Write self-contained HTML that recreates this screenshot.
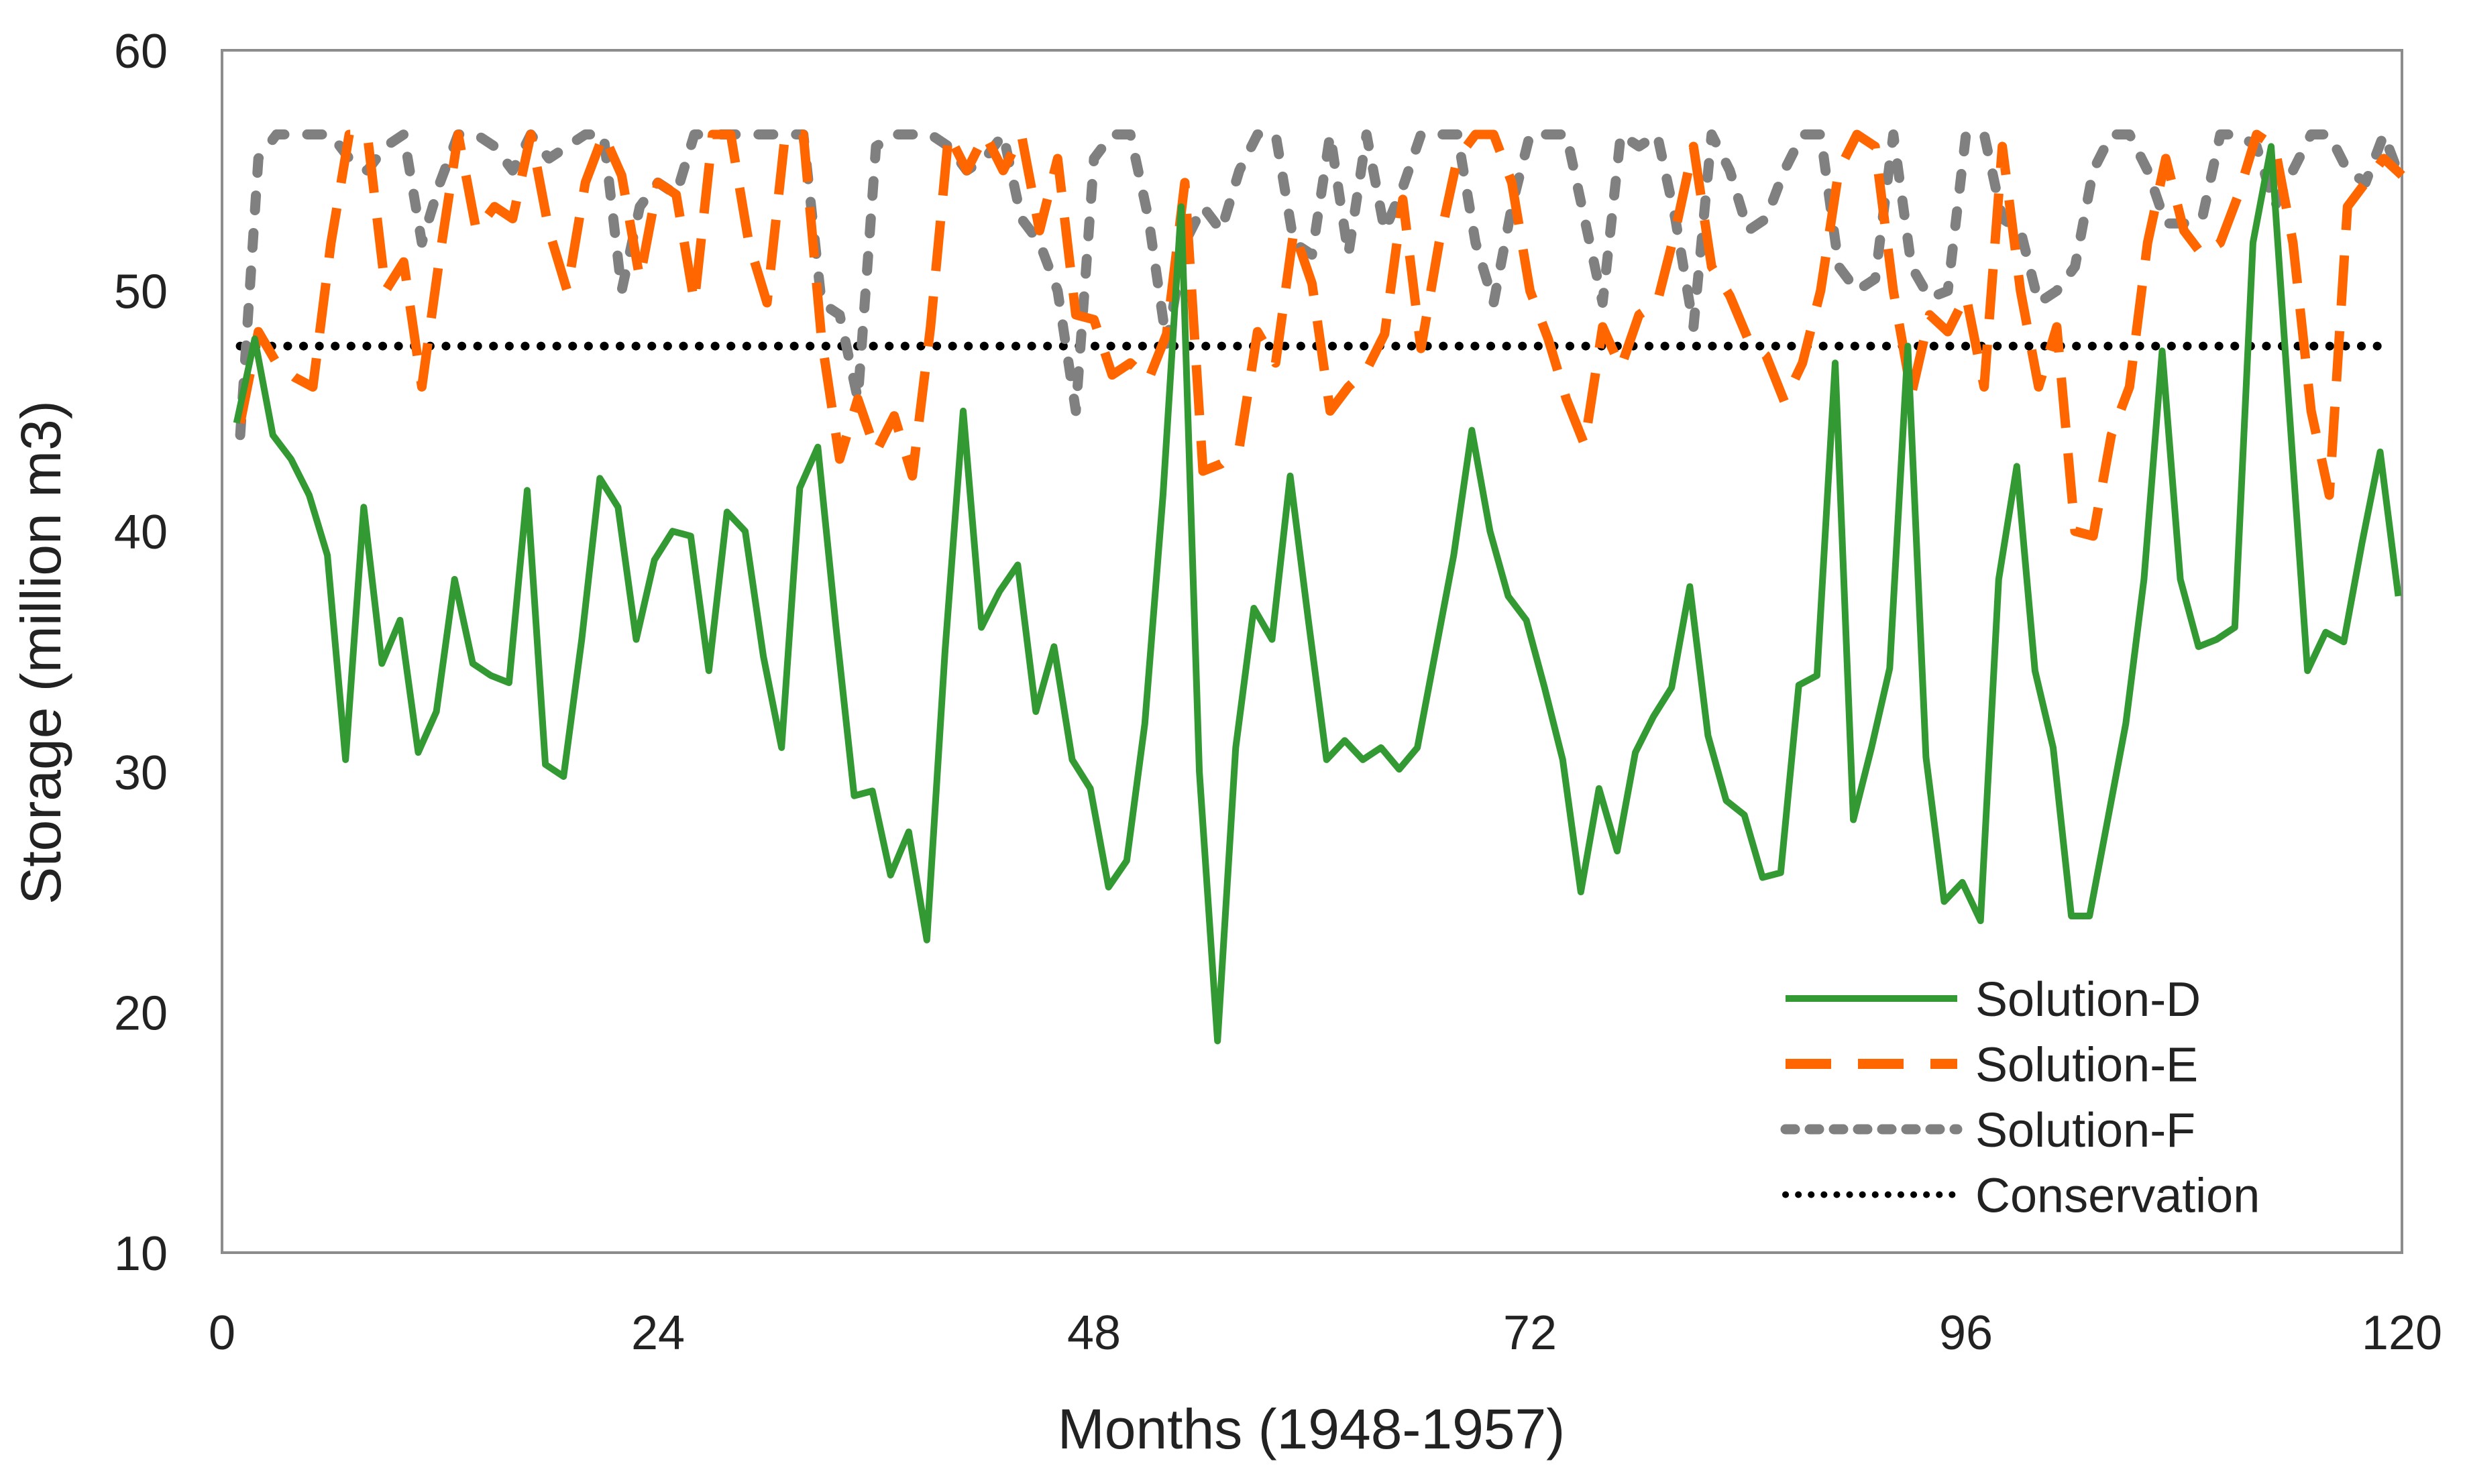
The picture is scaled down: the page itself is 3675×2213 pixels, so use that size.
<!DOCTYPE html>
<html><head><meta charset="utf-8"><style>
html,body{margin:0;padding:0;background:#fff;}
svg{display:block;font-family:"Liberation Sans",sans-serif;}
</style></head><body>
<svg id="chart" width="3675" height="2213" viewBox="0 0 3675 2213">
<rect x="331" y="75" width="3250" height="1793" fill="#fff" stroke="#8c8c8c" stroke-width="4"/>
<g id="yticks"></g><g id="xticks"></g><g id="series"></g>
<text x="1955" y="2160" font-size="84" text-anchor="middle" fill="#222">Months (1948-1957)</text>
<text x="0" y="0" font-size="84" text-anchor="middle" fill="#222" transform="translate(90,973) rotate(-90)">Storage (million m3)</text>
<g id="legend"></g>
</svg>
<script>
const yTicks=[10,20,30,40,50,60];
const xTicks=[0,24,48,72,96,120];
const solD=[44.5,48,44,43,41.5,39,30.5,41,34.5,36.3,30.8,32.5,38,34.5,34,33.7,41.7,30.3,29.8,35.5,42.2,41,35.5,38.8,40,39.8,34.2,40.8,40,34.8,31,41.8,43.5,36,29,29.2,25.7,27.5,23,35,45,36,37.5,38.6,32.5,35.2,30.5,29.3,25.2,26.3,32,41.5,53.5,30,18.8,31,36.8,35.5,42.3,36.3,30.5,31.3,30.5,31,30.1,31,35,39,44.2,40,37.3,36.3,33.5,30.5,25,29.3,26.7,30.8,32.3,33.5,37.7,31.5,28.8,28.2,25.6,25.8,33.6,34,47,28,31,34.3,47.7,30.6,24.6,25.4,23.8,38,42.7,34.2,31,24,24,28,32,38,47.5,38,35.2,35.5,36,52,56,45,34.2,35.8,35.4,39.5,43.3,37.3];
const solE=[44.5,48.3,47,46.4,46,52,56.5,56.5,50,51.2,46,51.5,56.5,52.5,53.5,53,56.5,52.5,50,54.5,56.5,54.8,50.5,54.5,54,49.5,56.5,56.5,52,49.5,56.5,56.5,48,43,45.5,43.3,44.8,42.3,48.5,56.5,55,56.5,55,56.5,52.5,55.5,49,48.8,46.5,47,46.3,48.2,54.5,42.5,42.8,43.5,48.3,47,52.5,50.3,45,46,46.7,48.2,53.8,47.6,52,55.5,56.5,56.5,54.5,50,48,45.5,43.6,48.5,46.8,49,49.5,52.5,56,51,49.8,48,47.3,45.4,47,50,55,56.5,56,50,45.7,49,48.3,49.8,46,56,50,46,48.5,40,39.8,44,46,52,55.5,52.5,51.5,52,54,56.5,56,52,45,41.5,53.5,54.5,55.5,54.8];
const solF=[44,55.5,56.5,56.5,56.5,56.5,55.5,55,56,56.5,52,54.5,56.5,56.5,56,55,56.5,55.5,56,56.5,56.5,50,53.5,54.5,54,56.5,56.5,56.5,56.5,56.5,56.5,56.5,49.5,49,45.5,56,56.5,56.5,56.5,56,55,55.5,56.5,53,52,50,45,55.5,56.5,56.5,53,47.8,52,53.5,52.5,55,56.5,56.5,52,51.5,56.5,51.5,56.5,52.5,54.3,56.5,56.5,56.5,52,49.5,53.5,56.5,56.5,56.5,53,49.5,56.5,56,56.5,53,48.5,56.5,55,52.5,53,55,56.5,56.5,51,50,50.5,56.5,51,49.7,50,56.5,56.5,53,52.5,49.5,50,51,55,56.5,56.5,55,52.8,52.8,53,56.5,56.5,56,53.5,55,56.5,56.5,55,54.5,56.5,54.5];
const conservation=[47.7];
const NS="http://www.w3.org/2000/svg";
const X0=331,X1=3581,Y0=1868,Y1=75;
function xs(m){return X0+(m/120)*(X1-X0);}
function ys(v){return Y0-(v-10)/50*(Y0-Y1);}
function mk(t,a,p){const e=document.createElementNS(NS,t);for(const k in a)e.setAttribute(k,a[k]);p.appendChild(e);return e;}
const yt=document.getElementById('yticks');
yTicks.forEach(v=>{const t=mk('text',{x:250,y:ys(v)+26,'font-size':72,'text-anchor':'end',fill:'#222'},yt);t.textContent=v;

});
const xt=document.getElementById('xticks');
xTicks.forEach(v=>{const t=mk('text',{x:xs(v),y:2012,'font-size':72,'text-anchor':'middle',fill:'#222'},xt);t.textContent=v;

});
const sg=document.getElementById('series');
function path(arr,start){return arr.map((v,i)=>(i?'L':'M')+xs(i+start).toFixed(1)+' '+ys(v).toFixed(1)).join(' ');}
const cons=mk('path',{d:'M'+xs(1)+' '+ys(conservation[0])+' L'+xs(119.5)+' '+ys(conservation[0]),stroke:'#000','stroke-width':13,'stroke-linecap':'round','stroke-dasharray':'0.1 23.5',fill:'none'},sg);


const pf=mk('path',{d:path(solF,1),stroke:'#808080','stroke-width':15,'stroke-linecap':'round','stroke-linejoin':'round','stroke-dasharray':'22 34',fill:'none'},sg);


const pe=mk('path',{d:path(solE,1),stroke:'#ff6600','stroke-width':14,'stroke-linejoin':'round','stroke-dasharray':'75 38',fill:'none'},sg);


const pd=mk('path',{d:path(solD,0.8),stroke:'#339933','stroke-width':10,'stroke-linejoin':'round',fill:'none'},sg);


const lg=document.getElementById('legend');
const items=[['Solution-D','#339933',10,'none','butt'],['Solution-E','#ff6600',15,'68 40','butt'],['Solution-F','#808080',15,'14 22','round'],['Conservation','#000',10,'0.1 19','round']];
items.forEach((it,i)=>{const y=1489+i*97.5;
const l=mk('line',{x1:2662,x2:2918,y1:y,y2:y,stroke:it[1],'stroke-width':it[2],'stroke-dasharray':it[3],'stroke-linecap':it[4]},lg);


const t=mk('text',{x:2945,y:y+26,'font-size':72,fill:'#222'},lg);t.textContent=it[0];

});
</script>
</body></html>
